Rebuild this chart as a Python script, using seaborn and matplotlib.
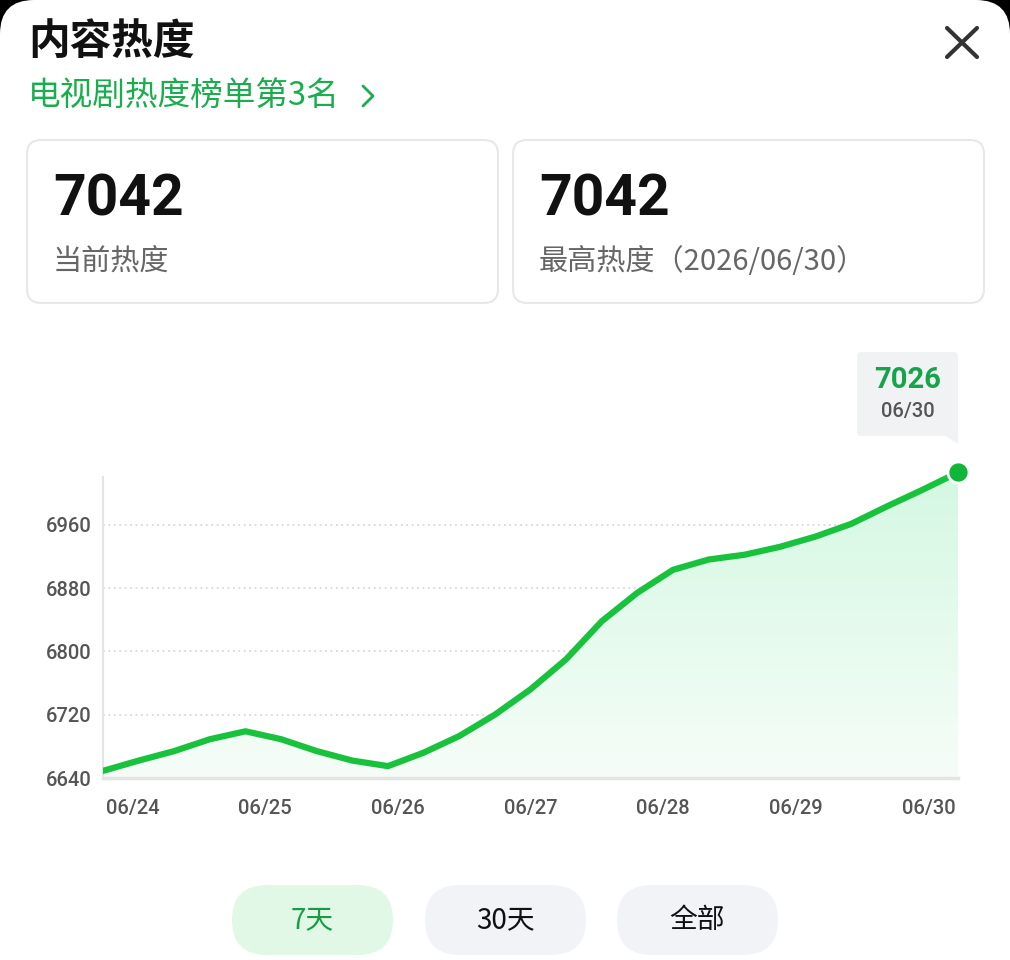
import numpy as np
import matplotlib
matplotlib.use("Agg")
import matplotlib.pyplot as plt
import seaborn as sns
import pandas as pd
from matplotlib.patches import FancyBboxPatch, Polygon
from matplotlib.colors import LinearSegmentedColormap

# data (quarter-day steps)
day_pos = [0, 0.25, 0.5, 0.75, 1, 1.25, 1.5, 1.75, 2, 2.25, 2.5, 2.75, 3,
           3.25, 3.5, 3.75, 4, 4.25, 4.5, 4.75, 5, 5.25, 5.5, 5.75, 6]
heat = [6649, 6662, 6674, 6689, 6699, 6689, 6674, 6662, 6655, 6672, 6693, 6720, 6752,
        6790, 6838, 6874, 6903, 6916, 6922, 6932, 6945, 6961, 6983, 7004, 7026]
date_labels = ["06/24", "06/25", "06/26", "06/27", "06/28", "06/29", "06/30"]
y_ticks = [6640, 6720, 6800, 6880, 6960]
current_heat = "7042"
max_heat = "7042"
max_date = "2026/06/30"
title = "内容热度"
subtitle = "电视剧热度榜单第3名"
ranges = ["7天", "30天", "全部"]

GREEN = "#18c23c"
TEXT_GREEN = "#1aad4e"

sns.set_theme(style="white")
plt.rcParams["font.family"] = ["Noto Sans CJK SC", "DejaVu Sans"]

fig = plt.figure(figsize=(10.1, 9.6), dpi=100)
fig.patch.set_facecolor("black")

# overlay axes in pixel coordinates for the card furniture
bg = fig.add_axes([0, 0, 1, 1], zorder=0)
bg.set_xlim(0, 1010)
bg.set_ylim(960, 0)
bg.axis("off")

bg.add_patch(FancyBboxPatch((0, 0), 1010, 1100, boxstyle="round,pad=0,rounding_size=34",
                            fc="white", ec="none"))

bg.text(28, 42, title, fontsize=30, fontweight="bold", color="#111111", va="center", ha="left")
bg.text(28, 96, subtitle, fontsize=23.5, color=TEXT_GREEN, va="center", ha="left")
bg.plot([363, 373, 363], [86, 96, 106], color=TEXT_GREEN, lw=2, solid_capstyle="round")

# close button
bg.plot([947, 977], [28, 57], color="#333333", lw=3, solid_capstyle="round")
bg.plot([977, 947], [28, 57], color="#333333", lw=3, solid_capstyle="round")

# summary cards
cards = [(27, current_heat, "当前热度"), (513, max_heat, "最高热度（" + max_date + "）")]
for x0, num, lab in cards:
    bg.add_patch(FancyBboxPatch((x0, 140), 471, 163, boxstyle="round,pad=0,rounding_size=14",
                                fc="white", ec="#e8e8e8", lw=1.5))
    bg.text(x0 + 26, 200, num, fontsize=41, fontweight="bold", color="#111111",
            family=["Roboto", "DejaVu Sans"], va="center", ha="left")
    bg.text(x0 + 26, 262, lab, fontsize=21, color="#666666", va="center", ha="left")

# tooltip
bg.add_patch(FancyBboxPatch((857, 352), 101, 84, boxstyle="round,pad=0,rounding_size=4",
                            fc="#f0f2f4", ec="none"))
bg.add_patch(Polygon([[944, 435], [958, 435], [958, 444]], closed=True, fc="#f0f2f4", ec="none"))
bg.text(908, 380, str(heat[-1]), fontsize=21, fontweight="bold", color="#16a34a",
        family=["Roboto", "DejaVu Sans"], va="center", ha="center")
bg.text(908, 411, date_labels[-1], fontsize=14.5, fontweight="medium", color="#555555",
        family=["Roboto", "DejaVu Sans"], va="center", ha="center")

# range buttons
btn_x = [232, 425, 617]
for i, (bx, lab) in enumerate(zip(btn_x, ranges)):
    active = i == 0
    bg.add_patch(FancyBboxPatch((bx, 885), 161, 70, boxstyle="round,pad=0,rounding_size=35",
                                fc="#e2f8e7" if active else "#f1f3f6", ec="none"))
    bg.text(bx + 80.5, 920, lab, fontsize=20, color="#179c44" if active else "#111111",
            va="center", ha="center")

# chart
ax = fig.add_axes([103 / 1010, 1 - 778 / 960, 855 / 1010, 338 / 960], zorder=1)
ax.set_facecolor("none")
df = pd.DataFrame({"day": day_pos, "heat": heat})

ymin, ymax = 6640, 7067
poly = ax.fill_between(df["day"], df["heat"], ymin, color="none", lw=0)
cmap = LinearSegmentedColormap.from_list("g", ["#f6fdf8", "#d4f8e2"])
grad = np.linspace(0, 1, 256).reshape(-1, 1)
im = ax.imshow(grad, extent=[0, 6, ymin, heat[-1]], origin="lower", aspect="auto",
               cmap=cmap, zorder=1)
im.set_clip_path(poly.get_paths()[0], transform=ax.transData)

sns.lineplot(data=df, x="day", y="heat", ax=ax, color=GREEN, lw=4.5, zorder=3)
ax.lines[-1].set_solid_joinstyle("round")
ax.scatter([day_pos[-1]], [heat[-1]], s=230, color="#10b53a", edgecolor="white",
           linewidth=2, zorder=4, clip_on=False)

ax.set_xlim(0, 6)
ax.set_ylim(ymin, ymax)
ax.set_yticks(y_ticks)
ax.set_yticklabels([str(v) for v in y_ticks])
ax.yaxis.grid(True, color="#d8d8d8", lw=1.3, linestyle=(0, (1, 2)))
ax.xaxis.grid(False)

# date labels spread edge to edge (space-between)
w = 59 / 142.5
label_pos = [w / 2 + k * (6 - w) / 6 for k in range(len(date_labels))]
ax.set_xticks(label_pos)
ax.set_xticklabels(date_labels)
ax.tick_params(axis="both", length=0, labelsize=14.5, labelcolor="#555555")
ax.tick_params(axis="x", pad=15)
ax.tick_params(axis="y", pad=8)
for t in ax.get_xticklabels() + ax.get_yticklabels():
    t.set_family(["Roboto", "DejaVu Sans"])
    t.set_fontweight("medium")
ax.set_xlabel("")
ax.set_ylabel("")

for s in ["top", "right"]:
    ax.spines[s].set_visible(False)
ax.spines["left"].set_color("#e4e4e4")
ax.spines["left"].set_linewidth(1.5)
ax.spines["left"].set_bounds(ymin, 7020)
ax.spines["bottom"].set_color("#e4e4e4")
ax.spines["bottom"].set_linewidth(2.5)

fig.savefig("out.png", dpi=100, facecolor=fig.get_facecolor())
